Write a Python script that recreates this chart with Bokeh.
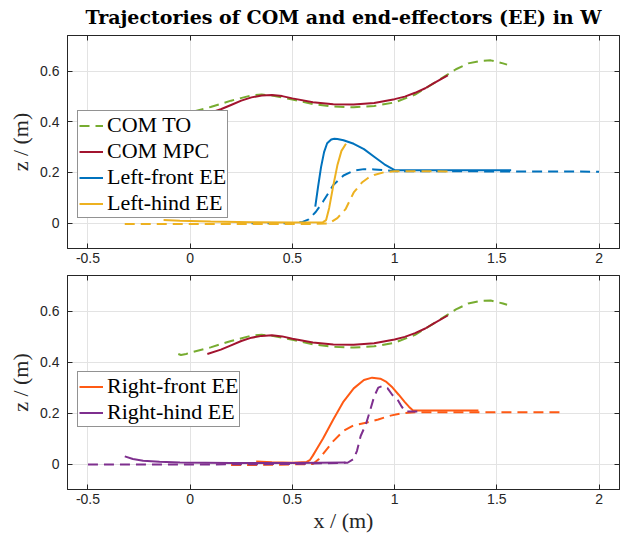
from bokeh.plotting import figure
from bokeh.layouts import column
from bokeh.models import (Range1d, FixedTicker, CustomJSTickFormatter, LinearAxis,
                          Legend, LegendItem, CustomLabelingPolicy)
from bokeh.embed import file_html
from bokeh.resources import INLINE

# ---------------- data ----------------
com_to_x = [-0.058, -0.045, -0.02, 0.0, 0.1, 0.2, 0.3, 0.35, 0.4, 0.5, 0.6, 0.7, 0.8, 0.9,
            1.0, 1.1, 1.2, 1.3, 1.36, 1.42, 1.47, 1.53, 1.55]
com_to_z = [0.432, 0.428, 0.432, 0.437, 0.458, 0.483, 0.504, 0.507, 0.503, 0.488, 0.470,
            0.460, 0.457, 0.462, 0.476, 0.507, 0.556, 0.607, 0.630, 0.640, 0.642, 0.630, 0.625]

com_mpc_x = [0.084, 0.15, 0.2, 0.25, 0.3, 0.35, 0.4, 0.45, 0.5, 0.6, 0.7, 0.8, 0.9, 1.0,
             1.05, 1.1, 1.15, 1.19, 1.26]
com_mpc_z = [0.432, 0.449, 0.466, 0.483, 0.496, 0.503, 0.505, 0.501, 0.492, 0.477, 0.469,
             0.468, 0.474, 0.489, 0.499, 0.514, 0.532, 0.551, 0.583]

lf_mpc_x = [0.612, 0.625, 0.64, 0.655, 0.67, 0.69, 0.705, 0.72, 0.75, 0.8, 0.85, 0.9, 0.95, 1.0, 1.57]
lf_mpc_z = [0.065, 0.14, 0.22, 0.28, 0.315, 0.330, 0.333, 0.332, 0.327, 0.313, 0.292, 0.262,
            0.232, 0.209, 0.209]

lf_to_x = [0.3, 0.5, 0.55, 0.58, 0.615, 0.65, 0.7, 0.75, 0.8, 0.85, 0.9, 1.0, 2.0]
lf_to_z = [0.0, 0.0, 0.005, 0.015, 0.045, 0.085, 0.15, 0.188, 0.207, 0.213, 0.212, 0.205, 0.203]

lh_mpc_x = [-0.13, -0.05, 0.1, 0.3, 0.5, 0.65, 0.665, 0.68, 0.7, 0.72, 0.74, 0.762]
lh_mpc_z = [0.012, 0.009, 0.006, 0.004, 0.003, 0.004, 0.012, 0.06, 0.148, 0.228, 0.285, 0.313]

lh_to_x = [-0.32, 0.0, 0.3, 0.6, 0.68, 0.72, 0.76, 0.8, 0.84, 0.87, 0.9, 0.95, 1.0, 1.27]
lh_to_z = [-0.003, -0.003, -0.003, -0.003, -0.001, 0.02, 0.055, 0.121, 0.16, 0.178, 0.19,
           0.201, 0.205, 0.204]

rf_mpc_x = [0.323, 0.4, 0.5, 0.57, 0.585, 0.6, 0.62, 0.65, 0.7, 0.75, 0.8, 0.85, 0.89, 0.93,
            0.96, 0.99, 1.02, 1.05, 1.07, 1.09, 1.41]
rf_mpc_z = [0.010, 0.007, 0.005, 0.008, 0.015, 0.033, 0.060, 0.100, 0.175, 0.245, 0.297,
            0.330, 0.339, 0.335, 0.322, 0.300, 0.272, 0.243, 0.225, 0.210, 0.210]

rf_to_x = [0.2, 0.4, 0.6, 0.63, 0.66, 0.7, 0.75, 0.8, 0.86, 0.92, 0.98, 1.04, 1.1, 1.82]
rf_to_z = [-0.004, -0.003, 0.0, 0.02, 0.05, 0.09, 0.13, 0.152, 0.162, 0.175, 0.19, 0.2,
           0.203, 0.203]

rh_mpc_x = [-0.32, -0.28, -0.23, -0.15, -0.05, 0.2, 0.5, 0.76]
rh_mpc_z = [0.030, 0.020, 0.013, 0.009, 0.006, 0.004, 0.004, 0.006]

rh_to_x = [-0.5, 0.0, 0.5, 0.77, 0.8, 0.816, 0.834, 0.86, 0.88, 0.9, 0.92, 0.94, 0.965, 0.99,
           1.017, 1.035, 1.052, 1.13]
rh_to_z = [-0.002, -0.002, 0.0, 0.005, 0.02, 0.052, 0.11, 0.157, 0.21, 0.265, 0.3, 0.306,
           0.298, 0.27, 0.249, 0.225, 0.206, 0.206]

x_ticks = [-0.5, 0, 0.5, 1, 1.5, 2]
z_ticks = [0, 0.2, 0.4, 0.6]

title_text = "Trajectories of COM and end-effectors (EE) in W"
x_label = "x / (m)"
z_label = "z / (m)"

# ---------------- styles ----------------
C_GREEN = "#77AC30"
C_RED = "#A2142F"
C_BLUE = "#0072BD"
C_YELLOW = "#EDB120"
C_ORANGE = "#FF5A14"
C_PURPLE = "#7E2F8E"
AX = "#262626"
GRID = "#E3E3E3"
SERIF = "Liberation Serif"
SANS = "Liberation Sans"
LW = 2
DASH = "10 6"

no_labels = CustomLabelingPolicy(
    code="for (let i = 0; i < indices.size; i++) { indices.unset(i) } return indices")


def make_fig(frame_h, top_border, bottom_border, show_xlabel):
    p = figure(frame_width=552, frame_height=frame_h,
               x_range=Range1d(-0.6, 2.1), y_range=Range1d(-0.1, 0.74),
               output_backend="svg", toolbar_location=None,
               min_border_left=67, min_border_right=2,
               min_border_top=top_border, min_border_bottom=bottom_border)
    p.background_fill_color = "white"
    p.border_fill_color = "white"
    p.outline_line_color = AX
    p.outline_line_width = 1
    fmt = CustomJSTickFormatter(code="return String(tick)")
    for ax in (p.xaxis[0], p.yaxis[0]):
        ax.major_tick_in = 5
        ax.major_tick_out = 0
        ax.minor_tick_in = 0
        ax.minor_tick_out = 0
        ax.axis_line_color = AX
        ax.major_tick_line_color = AX
        ax.major_label_text_color = AX
        ax.major_label_text_font = SANS
        ax.major_label_text_font_size = "14px"
        ax.formatter = fmt
        ax.axis_label_text_font = SERIF
        ax.axis_label_text_font_size = "22px"
        ax.axis_label_text_font_style = "normal"
        ax.axis_label_text_color = AX
    p.xaxis[0].ticker = FixedTicker(ticks=x_ticks)
    p.yaxis[0].ticker = FixedTicker(ticks=z_ticks)
    p.xaxis[0].major_label_standoff = 4
    p.yaxis[0].major_label_standoff = 8
    p.yaxis[0].axis_label = z_label
    p.yaxis[0].axis_label_standoff = 4
    if show_xlabel:
        p.xaxis[0].axis_label = x_label
        p.xaxis[0].axis_label_standoff = 1
    # box ticks on top and right (no labels)
    for loc, tk in (("above", x_ticks), ("right", z_ticks)):
        a = LinearAxis(ticker=FixedTicker(ticks=tk), major_tick_in=5, major_tick_out=0,
                       minor_tick_in=0, minor_tick_out=0, major_label_standoff=0,
                       major_label_text_font_size="1px", major_label_policy=no_labels,
                       axis_line_color=AX, major_tick_line_color=AX)
        p.add_layout(a, loc)
    p.xgrid.ticker = FixedTicker(ticks=x_ticks)
    p.ygrid.ticker = FixedTicker(ticks=z_ticks)
    p.grid.grid_line_color = GRID
    p.grid.grid_line_width = 1
    return p


def style_legend(leg, loc):
    leg.location = loc
    leg.label_text_font = SERIF
    leg.label_text_font_size = "22px"
    leg.label_text_color = "black"
    leg.label_height = 25
    leg.glyph_height = 25
    leg.glyph_width = 24
    leg.label_standoff = 4
    leg.padding = 1
    leg.spacing = 0
    leg.margin = 0
    leg.border_line_color = AX
    leg.border_line_width = 1
    leg.background_fill_color = "white"
    leg.background_fill_alpha = 1


# ---------------- top figure ----------------
p1 = make_fig(213, 35, 18, False)
p1.title.text = title_text
p1.title.text_font = "DejaVu Serif"
p1.title.text_font_style = "bold"
p1.title.text_font_size = "19px"
p1.title.align = "center"
p1.title.text_color = "black"
p1.title.standoff = 7

r_com_to = p1.line(com_to_x, com_to_z, line_color=C_GREEN, line_width=LW, line_dash=DASH)
r_com_mpc = p1.line(com_mpc_x, com_mpc_z, line_color=C_RED, line_width=LW)
r_lf_mpc = p1.line(lf_mpc_x, lf_mpc_z, line_color=C_BLUE, line_width=LW)
p1.line(lf_to_x, lf_to_z, line_color=C_BLUE, line_width=LW, line_dash=DASH)
r_lh_mpc = p1.line(lh_mpc_x, lh_mpc_z, line_color=C_YELLOW, line_width=LW)
p1.line(lh_to_x, lh_to_z, line_color=C_YELLOW, line_width=LW, line_dash=DASH)

leg1 = Legend(items=[LegendItem(label="COM TO", renderers=[r_com_to]),
                     LegendItem(label="COM MPC", renderers=[r_com_mpc]),
                     LegendItem(label="Left-front EE", renderers=[r_lf_mpc]),
                     LegendItem(label="Left-hind EE", renderers=[r_lh_mpc])])
style_legend(leg1, (10, 30))
p1.add_layout(leg1, "center")

# ---------------- bottom figure ----------------
p2 = make_fig(214, 9, 40, True)
p2.line(com_to_x, com_to_z, line_color=C_GREEN, line_width=LW, line_dash=DASH)
p2.line(com_mpc_x, com_mpc_z, line_color=C_RED, line_width=LW)
p2.line(rf_to_x, rf_to_z, line_color=C_ORANGE, line_width=LW, line_dash=DASH)
r_rf_mpc = p2.line(rf_mpc_x, rf_mpc_z, line_color=C_ORANGE, line_width=LW)
p2.line(rh_to_x, rh_to_z, line_color=C_PURPLE, line_width=LW, line_dash=DASH)
r_rh_mpc = p2.line(rh_mpc_x, rh_mpc_z, line_color=C_PURPLE, line_width=LW)

leg2 = Legend(items=[LegendItem(label="Right-front EE", renderers=[r_rf_mpc]),
                     LegendItem(label="Right-hind EE", renderers=[r_rh_mpc])])
style_legend(leg2, (10, 62))
p2.add_layout(leg2, "center")

layout = column(p1, p2, spacing=0)
open("out.html", "w").write(file_html(layout, INLINE))
